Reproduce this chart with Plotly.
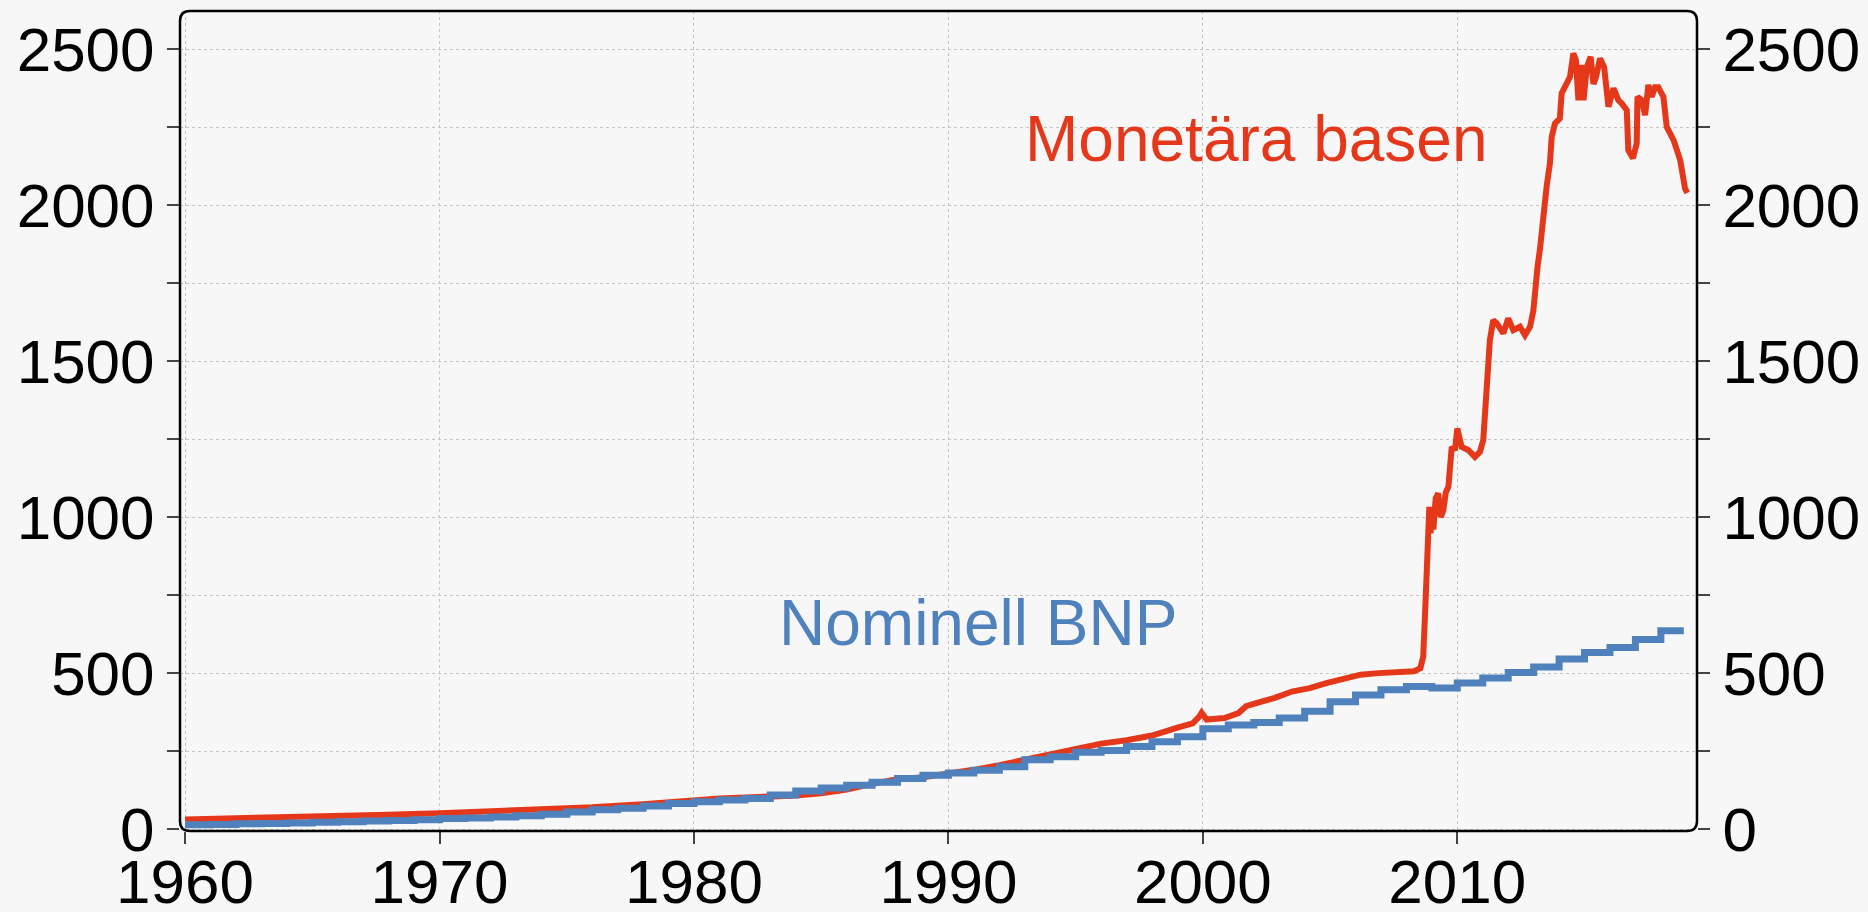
import plotly.graph_objects as go

# Monetära basen (red)
mb_years = [1960.0, 1962, 1964, 1966, 1968, 1970, 1972, 1974, 1976, 1978,
            1980, 1981, 1982, 1983, 1984, 1985, 1986, 1987, 1988, 1989,
            1990, 1991, 1992, 1993, 1994, 1995, 1996, 1997, 1998, 1999,
            1999.6, 1999.85, 1999.95, 2000.15, 2000.5, 2000.85, 2001.4, 2001.7,
            2002.1, 2002.8, 2003.5, 2004.2, 2004.85, 2005.5, 2006.2, 2006.9,
            2007.6, 2008.3, 2008.55, 2008.66, 2008.73, 2008.79, 2008.86, 2008.9,
            2008.95, 2009.0, 2009.06, 2009.15, 2009.25, 2009.35, 2009.45, 2009.55,
            2009.65, 2009.71, 2009.78, 2009.91, 2010.0, 2010.04, 2010.17, 2010.43,
            2010.69, 2010.89, 2011.02, 2011.09, 2011.15, 2011.22, 2011.28, 2011.41,
            2011.55, 2011.81, 2012.0, 2012.2, 2012.46, 2012.66, 2012.86, 2012.99,
            2013.05, 2013.15, 2013.25, 2013.35, 2013.51, 2013.64, 2013.71, 2013.84,
            2014.03, 2014.1, 2014.3, 2014.43, 2014.56, 2014.66, 2014.76, 2014.84,
            2014.89, 2014.96, 2015.09, 2015.24, 2015.35, 2015.45, 2015.61, 2015.77,
            2015.94, 2016.14, 2016.33, 2016.46, 2016.66, 2016.72, 2016.9, 2017.05,
            2017.08, 2017.25, 2017.38, 2017.51, 2017.64, 2017.77, 2017.9, 2018.1,
            2018.23, 2018.5, 2018.76, 2018.95, 2019.04]
mb_values = [31, 34, 37, 41, 46, 51, 56, 62, 70, 80,
             94, 98, 101, 104, 108, 115, 127, 145, 160, 166,
             176, 190, 205, 222, 243, 260, 274, 285, 300, 325,
             339, 360, 373, 351, 352, 356, 372, 394,
             404, 420, 441, 452, 468, 479, 495, 500,
             505, 506, 516, 553, 686, 873, 1012, 1033,
             948, 1030, 960, 1060, 1076, 1000, 1022, 1080,
             1097, 1183, 1225, 1215, 1284, 1270, 1225, 1215,
             1193, 1209, 1247, 1343, 1455, 1514, 1567, 1631,
             1621, 1589, 1637, 1599, 1610, 1583, 1610, 1663,
             1728, 1800, 1860, 1945, 2059, 2134, 2219, 2262,
             2278, 2358, 2395, 2411, 2486, 2465, 2336, 2440,
             2449, 2336, 2442, 2475, 2388, 2410, 2470, 2442,
             2315, 2374, 2336, 2326, 2304, 2176, 2150, 2197,
             2347, 2336, 2288, 2385, 2347, 2378, 2378, 2347,
             2251, 2208, 2144, 2053, 2039]

# Nominell BNP (blue), one value per year
gdp_years = list(range(1960, 2019))
gdp_values = [14, 15, 17, 18, 20, 22, 24, 26, 28, 30,
              34, 36, 39, 43, 48, 55, 62, 67, 74, 82,
              88, 93, 98, 109, 122, 132, 141, 150, 162, 173,
              180, 189, 200, 222, 232, 246, 252, 265, 280, 296,
              322, 334, 342, 356, 378, 408, 430, 447, 457, 452,
              468, 484, 502, 520, 545, 566, 582, 608, 636]
gdp_end = 2018.9

RED = "#e5381a"
BLUE = "#4f81bd"
BG = "#f7f7f7"
FONT = "Arial, Liberation Sans, sans-serif"

fig = go.Figure()

fig.add_trace(go.Scatter(x=mb_years, y=mb_values, mode="lines",
                         line=dict(color=RED, width=6),
                         name="Monetära basen", showlegend=False))
# on y2 so it is drawn over the red line and the right axis gets drawn
fig.add_trace(go.Scatter(x=gdp_years + [gdp_end], y=gdp_values + [gdp_values[-1]],
                         mode="lines", line=dict(color=BLUE, width=7, shape="hv"),
                         name="Nominell BNP", showlegend=False, yaxis="y2"))

W, H = 1868, 912
ml, mr, mt, mb = 180, 171, 11, 81
pw, ph = W - ml - mr, H - mt - mb

grid = dict(showgrid=True, gridcolor="#c4c4c4", gridwidth=1, griddash="dot")
yticks = dict(range=[-6, 2622], tick0=0, dtick=500, ticks="outside", ticklen=12,
              tickwidth=1.5, tickcolor="#444", zeroline=False, showline=False,
              automargin=False,
              tickfont=dict(size=62, color="black", family=FONT))

fig.update_layout(
    width=W, height=H,
    margin=dict(l=ml, r=mr, t=mt, b=mb),
    paper_bgcolor=BG, plot_bgcolor=BG,
    font=dict(family=FONT, color="black"),
    xaxis=dict(range=[1959.8, 2019.42], tick0=1960, dtick=10, ticks="outside",
               ticklen=12, tickwidth=1.5, tickcolor="#444", zeroline=False,
               showline=False, automargin=False, ticklabelstandoff=-15,
               tickfont=dict(size=62, color="black", family=FONT),
               **grid),
    yaxis=dict(**yticks, **grid,
               minor=dict(dtick=250, ticks="outside", ticklen=12, tickwidth=1.5,
                          tickcolor="#444", showgrid=True, gridcolor="#c4c4c4",
                          griddash="dot")),
    yaxis2=dict(**yticks, overlaying="y", side="right", matches="y", showgrid=False,
                minor=dict(dtick=250, ticks="outside", ticklen=12, tickwidth=1.5,
                           tickcolor="#444", showgrid=False)),
)

# frame with rounded corners
rx, ry = 10 / pw, 10 / ph
path = (f"M {rx},0 L {1-rx},0 Q 1,0 1,{ry} L 1,{1-ry} Q 1,1 {1-rx},1 "
        f"L {rx},1 Q 0,1 0,{1-ry} L 0,{ry} Q 0,0 {rx},0 Z")
fig.add_shape(type="path", path=path, xref="paper", yref="paper",
              line=dict(color="black", width=2.5), layer="above")

fig.add_annotation(x=2002.09, y=2211, text="Monetära basen", showarrow=False,
                   font=dict(size=64, color=RED, family=FONT))
fig.add_annotation(x=1991.16, y=662, text="Nominell BNP", showarrow=False,
                   font=dict(size=64, color=BLUE, family=FONT))

# no page margin, so the figure sits at the window's top left corner
fig.write_html("out.html", config={"displayModeBar": False},
               post_script="document.body.style.margin='0';"
                           "document.body.style.background='#f7f7f7';")
